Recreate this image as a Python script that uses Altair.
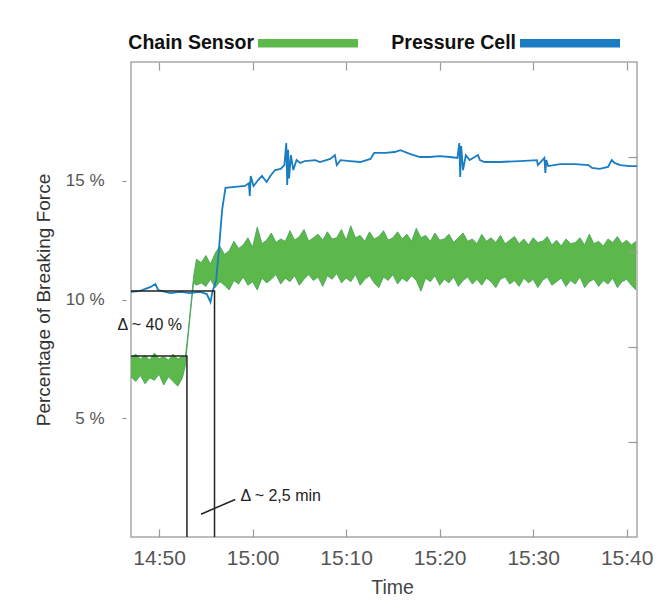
import altair as alt
import pandas as pd

# ---- data (time in minutes after 14:00, values in % of breaking force) ----
chain_t = [47.0, 47.5, 48.0, 48.5, 49.0, 49.5, 50.0, 50.5, 51.0, 51.5, 52.0, 52.5,
           52.8, 53.1, 53.4, 53.7, 54.0,
           54.5, 55.0, 55.5, 56.0, 56.5, 57.0, 57.5, 58.0, 58.5, 59.0, 59.5, 60.0,
           60.5, 61.0, 61.5, 62.0, 62.5, 63.0, 63.5, 64.0, 64.5, 65.0, 65.5, 66.0,
           66.5, 67.0, 67.5, 68.0, 68.5, 69.0, 69.5, 70.0, 70.5, 71.0, 71.5, 72.0,
           72.5, 73.0, 73.5, 74.0, 74.5, 75.0, 75.5, 76.0, 76.5, 77.0, 77.5, 78.0,
           78.5, 79.0, 79.5, 80.0, 80.5, 81.0, 81.5, 82.0, 82.5, 83.0, 83.5, 84.0,
           84.5, 85.0, 85.5, 86.0, 86.5, 87.0, 87.5, 88.0, 88.5, 89.0, 89.5, 90.0,
           90.5, 91.0, 91.5, 92.0, 92.5, 93.0, 93.5, 94.0, 94.5, 95.0, 95.5, 96.0,
           96.5, 97.0, 97.5, 98.0, 98.5, 99.0, 99.5, 100.0, 100.5, 101.0]
chain_hi = [7.55, 7.70, 7.50, 7.65, 7.45, 7.75, 7.50, 7.60, 7.45, 7.70, 7.50, 7.60,
            7.55, 8.60, 9.80, 11.00, 11.70,
            11.55, 11.85, 11.50, 11.95, 12.25, 11.90, 12.05, 12.45, 12.15, 12.30, 12.60, 12.20,
            13.05, 12.35, 12.50, 12.80, 12.40, 12.55, 12.45, 12.90, 12.50, 12.65, 12.95, 12.45,
            12.60, 12.75, 12.50, 12.85, 12.55, 12.60, 12.95, 12.50, 13.10, 12.60, 12.70, 12.45,
            12.85, 12.55, 12.65, 12.90, 12.50, 12.60, 12.85, 12.55, 12.75, 12.45, 13.00, 12.60,
            12.70, 12.45, 12.80, 12.50, 12.55, 12.75, 12.40, 12.60, 12.80, 12.45, 12.55, 12.35,
            12.75, 12.45, 12.60, 12.40, 12.70, 12.35, 12.50, 12.65, 12.35, 12.55, 12.30, 12.60,
            12.40, 12.45, 12.65, 12.30, 12.50, 12.25, 12.55, 12.35, 12.40, 12.60, 12.30, 12.75,
            12.35, 12.45, 12.25, 12.55, 12.40, 12.65, 12.35, 12.50, 12.30, 12.45]
chain_lo = [6.75, 6.55, 6.80, 6.45, 6.70, 6.60, 6.85, 6.40, 6.75, 6.55, 6.35, 6.70,
            7.20, 8.40, 9.60, 10.70, 10.60,
            10.70, 10.55, 10.85, 10.50, 10.75, 10.60, 10.40, 10.80, 10.65, 10.95, 10.60, 10.75,
            10.40, 10.90, 10.70, 10.85, 11.05, 10.65, 10.90, 10.75, 11.00, 10.60, 10.85, 11.05,
            10.80, 10.95, 10.55, 11.00, 10.85, 11.10, 10.70, 10.90, 10.75, 11.05, 10.60, 10.85,
            11.00, 10.70, 10.50, 10.95, 10.80, 11.05, 10.65, 10.90, 10.75, 11.00, 10.80, 10.35,
            10.90, 10.75, 11.00, 10.60, 10.85, 10.70, 10.95, 10.55, 10.80, 10.95, 10.65, 10.85,
            10.60, 10.90, 10.75, 10.50, 10.85, 10.95, 10.65, 10.80, 10.55, 10.90, 10.70, 10.85,
            10.50, 10.80, 10.95, 10.60, 10.75, 10.90, 10.55, 10.80, 10.65, 10.95, 10.50, 10.75,
            10.85, 10.55, 10.80, 10.65, 10.90, 10.50, 10.75, 10.85, 10.60, 10.40]

press_t = [47.0, 48.0, 49.1, 49.6, 49.9, 51.2, 52.3, 53.3, 54.4, 55.1, 55.5, 55.7,
           56.1, 56.4, 56.75, 57.1, 58.1, 59.2, 59.6, 59.7, 59.8, 60.1, 60.6, 61.0,
           61.5, 61.9, 62.4, 63.0, 63.4, 63.6, 63.7, 63.8, 63.9, 64.1, 64.35, 64.7,
           65.1, 65.6, 66.7, 67.2, 68.3, 68.8, 69.0, 69.4, 70.4, 71.5, 72.6, 73.0,
           74.2, 75.2, 75.8, 76.8, 77.9, 78.9, 80.0, 81.1, 81.9, 82.1, 82.2, 82.3,
           82.5, 82.8, 83.2, 84.1, 84.3, 84.8, 86.4, 88.6, 90.4, 90.5, 91.2, 91.3,
           91.4, 91.6, 92.9, 94.5, 95.9, 96.3, 97.1, 98.0, 98.4, 98.7, 99.3, 100.3, 101.1]
press_v = [10.32, 10.36, 10.53, 10.65, 10.40, 10.27, 10.32, 10.27, 10.32, 10.23, 9.89, 10.32,
           10.80, 12.10, 13.80, 14.70, 14.74, 14.78, 14.90, 14.36, 15.20, 14.78, 15.03, 15.20,
           14.95, 15.20, 15.45, 15.50, 15.66, 16.59, 14.82, 16.30, 15.10, 16.08, 15.45, 15.87,
           15.75, 15.83, 15.87, 15.79, 15.92, 16.08, 15.66, 15.87, 15.83, 15.79, 15.92, 16.17,
           16.17, 16.21, 16.29, 16.13, 16.00, 16.00, 16.04, 16.00, 15.96, 16.59, 15.16, 16.46,
           15.45, 16.08, 15.87, 16.08, 15.87, 15.79, 15.79, 15.83, 15.87, 15.66, 15.96, 15.33,
           15.87, 15.62, 15.70, 15.70, 15.66, 15.54, 15.50, 15.58, 15.87, 15.75, 15.66, 15.62, 15.62]

series_names = ["Chain Sensor", "Pressure Cell"]
series_colors = ["#5cb84a", "#1a7dc2"]

x_ticks = [50, 60, 70, 80, 90, 100]
y_ticks = [5, 10, 15]
right_ticks = [4, 8, 12, 16]

bracket_a_t = [47.0, 55.93, 55.93]
bracket_a_v = [10.36, 10.36, 0.0]
bracket_b_t = [47.0, 52.98, 52.98]
bracket_b_v = [7.62, 7.62, 0.0]
leader_t = [54.48, 58.14]
leader_v = [0.96, 1.58]

note_text = ["Δ ~ 40 %", "Δ ~ 2,5 min"]
note_t = [45.55, 58.7]
note_v = [8.93, 1.73]

# ---- tables ----
chain_df = pd.DataFrame({"t": chain_t, "hi": chain_hi, "lo": chain_lo,
                         "series": series_names[0]})
press_df = pd.DataFrame({"t": press_t, "v": press_v})
rows = []
for g, (ts, vs) in enumerate([(bracket_a_t, bracket_a_v), (bracket_b_t, bracket_b_v),
                              (leader_t, leader_v)]):
    for i, (a, b) in enumerate(zip(ts, vs)):
        rows.append({"t": a, "v": b, "g": g, "o": i})
ann_df = pd.DataFrame(rows)
note_df = pd.DataFrame({"t": note_t, "v": note_v, "label": note_text})

FONT = "Liberation Sans"
X_DOM = [47.0, 101.1]
Y_DOM = [0, 20]


def xs():
    return alt.Scale(domain=X_DOM, nice=False, zero=False)


def ys():
    return alt.Scale(domain=Y_DOM, nice=False, zero=False)


label_expr = ("(14 + floor(datum.value / 60)) + ':' + "
              "((datum.value % 60) < 10 ? '0' : '') + (datum.value % 60)")

band = alt.Chart(chain_df).mark_area(opacity=1).encode(
    x=alt.X("t:Q", scale=xs(), axis=alt.Axis(
        orient="bottom", values=x_ticks, labelExpr=label_expr, ticks=False,
        domain=False, grid=False, labelPadding=10, labelFontSize=21,
        labelColor="#555", labelFont=FONT, title="Time", titleFont=FONT,
        titleFontSize=19.5, titleFontWeight="normal", titleColor="#444",
        titlePadding=10, titleX=261)),
    y=alt.Y("hi:Q", scale=ys(), axis=alt.Axis(
        orient="left", values=y_ticks, labelExpr="datum.value + ' %'",
        offset=5, tickSize=4, tickColor="#888", domain=False, grid=False,
        labelPadding=18, labelFontSize=17, labelColor="#555", labelFont=FONT,
        title="Percentage of Breaking Force", titleFont=FONT, titleFontSize=19,
        titleFontWeight="normal", titleColor="#333", titlePadding=12)),
    y2="lo:Q",
    color=alt.Color("series:N", scale=alt.Scale(domain=series_names, range=series_colors),
                    legend=alt.Legend(
                        orient="none", legendX=127, legendY=-69, direction="horizontal",
                        title=None, symbolType="M-1,-0.085H1V0.085H-1Z", symbolSize=10000,
                        symbolStrokeWidth=0, symbolOpacity=1,
                        labelFont=FONT, labelFontSize=19.5, labelFontWeight="bold",
                        labelColor="#111", labelAlign="right",
                        labelOffset={"expr": "-104"},
                        columnPadding=33)),
)

band_hi = alt.Chart(chain_df).mark_line(color="#3f9f55", strokeWidth=0.8).encode(
    x=alt.X("t:Q", scale=xs(), axis=None), y=alt.Y("hi:Q", scale=ys(), axis=None))
band_lo = alt.Chart(chain_df).mark_line(color="#3f9f55", strokeWidth=0.8).encode(
    x=alt.X("t:Q", scale=xs(), axis=None), y=alt.Y("lo:Q", scale=ys(), axis=None))

press = alt.Chart(press_df).mark_line(color=series_colors[1], strokeWidth=1.8).encode(
    x=alt.X("t:Q", scale=xs(), axis=None), y=alt.Y("v:Q", scale=ys(), axis=None))

ann = alt.Chart(ann_df).mark_line(color="#222", strokeWidth=1.5).encode(
    x=alt.X("t:Q", scale=xs(), axis=None), y=alt.Y("v:Q", scale=ys(), axis=None),
    detail="g:N", order="o:Q")

notes = alt.Chart(note_df).mark_text(align="left", baseline="middle", font=FONT,
                                     fontSize=16, color="#222").encode(
    x=alt.X("t:Q", scale=xs(), axis=None), y=alt.Y("v:Q", scale=ys(), axis=None),
    text="label:N")

tick_bottom_right = alt.Chart(press_df).mark_point(opacity=0).encode(
    x=alt.X("t:Q", scale=xs(), axis=alt.Axis(
        orient="bottom", values=x_ticks, labels=False, domain=False, grid=False,
        offset=-8, tickSize=8, tickColor="#999", tickWidth=1.2, title=None, zindex=1)),
    y=alt.Y("v:Q", scale=ys(), axis=alt.Axis(
        orient="right", values=right_ticks, labels=False, domain=False, grid=False,
        offset=-9, tickSize=9, tickColor="#999", tickWidth=1.2, title=None, zindex=1)))

tick_top = alt.Chart(press_df).mark_point(opacity=0).encode(
    x=alt.X("t:Q", scale=xs(), axis=alt.Axis(
        orient="top", values=x_ticks, labels=False, domain=False, grid=False,
        offset=-8, tickSize=8, tickColor="#999", tickWidth=1.2, title=None, zindex=1)),
    y=alt.Y("v:Q", scale=ys(), axis=None))

chart = alt.layer(band, band_hi, band_lo, press, ann, notes, tick_bottom_right, tick_top
                  ).resolve_scale(x="independent", y="independent").properties(
    width=506, height=475,
    autosize=alt.AutoSizeParams(type="none"),
    padding={"left": 123, "top": 54, "right": 20, "bottom": 60},
).configure_view(stroke="#a8a8a8", strokeWidth=1.5)

chart.save("out.html", embed_options={"renderer": "svg", "actions": False})
